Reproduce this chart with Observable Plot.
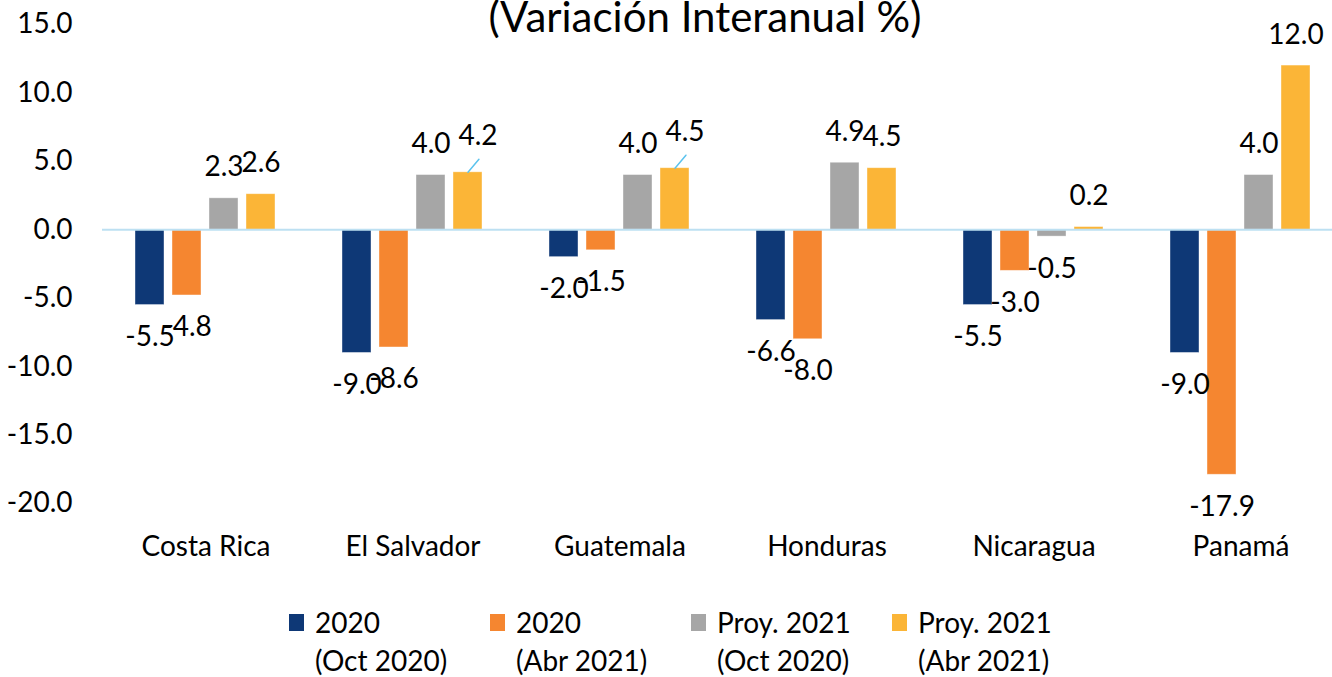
<!DOCTYPE html>
<html>
<head>
<meta charset="utf-8">
<script src="https://cdn.jsdelivr.net/npm/d3@7"></script>
<script src="https://cdn.jsdelivr.net/npm/@observablehq/plot@0.6"></script>
<style>
  html, body { margin: 0; padding: 0; background: #fff; overflow: hidden; }
  #wrap { position: relative; width: 1332px; height: 677px; font-family: Lato, "Open Sans", sans-serif; color: #000; }
  #title { position: absolute; left: 0; width: 1410px; top: -5px; text-align: center; font-size: 42px; line-height: 42px; white-space: nowrap; }
  #chart { position: absolute; left: 0; top: 0; }
  #legend { position: absolute; left: 289px; top: 603px; display: flex; }
  .item { width: 201px; display: flex; align-items: flex-start; }
  .sw { width: 15px; height: 17px; margin-top: 11px; margin-right: 11px; flex: none; }
  .lt { font-size: 28px; line-height: 38px; white-space: nowrap; }
</style>
</head>
<body>
<div id="wrap">
  <div id="chart"></div>
  <div id="title">(Variación Interanual %)</div>
  <div id="legend"></div>
</div>
<script>
// ---- data ----
const countries = ["Costa Rica", "El Salvador", "Guatemala", "Honduras", "Nicaragua", "Panamá"];
const seriesLine1 = ["2020", "2020", "Proy. 2021", "Proy. 2021"];
const seriesLine2 = ["(Oct 2020)", "(Abr 2021)", "(Oct 2020)", "(Abr 2021)"];
const seriesColors = ["#0e3876", "#f58630", "#a6a6a6", "#fbb537"];
const v2020Oct = [-5.5, -9.0, -2.0, -6.6, -5.5, -9.0];
const v2020Abr = [-4.8, -8.6, -1.5, -8.0, -3.0, -17.9];
const v2021Oct = [2.3, 4.0, 4.0, 4.9, -0.5, 4.0];
const v2021Abr = [2.6, 4.2, 4.5, 4.5, 0.2, 12.0];
const yTicks = [-20, -15, -10, -5, 0, 5, 10, 15];
const calloutKeys = ["El Salvador|Proy. 2021 (Abr 2021)", "Guatemala|Proy. 2021 (Abr 2021)"];

// ---- build table ----
const seriesNames = seriesLine1.map((s, i) => s + " " + seriesLine2[i]);
const valuesBySeries = [v2020Oct, v2020Abr, v2021Oct, v2021Abr];
const data = countries.flatMap((c, i) => seriesNames.map((s, j) => ({country: c, series: s, value: valuesBySeries[j][i]})));
const fmt = d => d.toFixed(1);
const isCallout = d => calloutKeys.includes(d.country + "|" + d.series);

const chart = Plot.plot({
  width: 1332,
  height: 580,
  marginLeft: 102,
  marginRight: -12,
  marginTop: 24,
  marginBottom: 77,
  style: {fontFamily: "Lato, 'Open Sans', sans-serif", fontSize: "28px", color: "#000", background: "transparent"},
  facet: {data, x: "country"},
  fx: {domain: countries, padding: 0, label: null, axis: "bottom", tickSize: 0, tickPadding: 33},
  x: {domain: seriesNames, paddingInner: 0.213, paddingOuter: 0.866, axis: null},
  y: {domain: [-20, 15], ticks: yTicks, tickFormat: fmt, tickSize: 0, tickPadding: 30, label: null, axis: "left"},
  color: {domain: seriesNames, range: seriesColors},
  marks: [
    Plot.barY(data, {x: "series", y: "value", fill: "series", stroke: "#ffffff", strokeOpacity: 0.5, strokeWidth: 0.8}),
    Plot.ruleY([0], {stroke: "#bde0f2", strokeWidth: 2}),
    Plot.text(data, {filter: d => d.value >= 0 && !isCallout(d), x: "series", y: "value", text: d => fmt(d.value), dy: -31, fontSize: 28, fill: "#000"}),
    Plot.text(data, {filter: d => d.value < 0, x: "series", y: "value", text: d => fmt(d.value), dy: 32, fontSize: 28, fill: "#000"}),
    Plot.text(data, {filter: isCallout, x: "series", y: "value", text: d => fmt(d.value), dx: 10, dy: -36, fontSize: 28, fill: "#000"}),
    Plot.vector(data, {filter: isCallout, x: "series", y: "value", length: 17, rotate: 40, anchor: "start", stroke: "#5bc3ee", strokeWidth: 1.5,
      shape: {draw(ctx, l) { ctx.moveTo(0, 0); ctx.lineTo(0, -l); }}})
  ]
});
document.getElementById("chart").appendChild(chart);

// ---- legend ----
const legend = document.getElementById("legend");
seriesNames.forEach((s, i) => {
  const item = document.createElement("div");
  item.className = "item";
  const sw = document.createElement("div");
  sw.className = "sw";
  sw.style.background = seriesColors[i];
  const lt = document.createElement("div");
  lt.className = "lt";
  lt.innerHTML = seriesLine1[i] + "<br>" + seriesLine2[i];
  item.appendChild(sw);
  item.appendChild(lt);
  legend.appendChild(item);
});
</script>
</body>
</html>
